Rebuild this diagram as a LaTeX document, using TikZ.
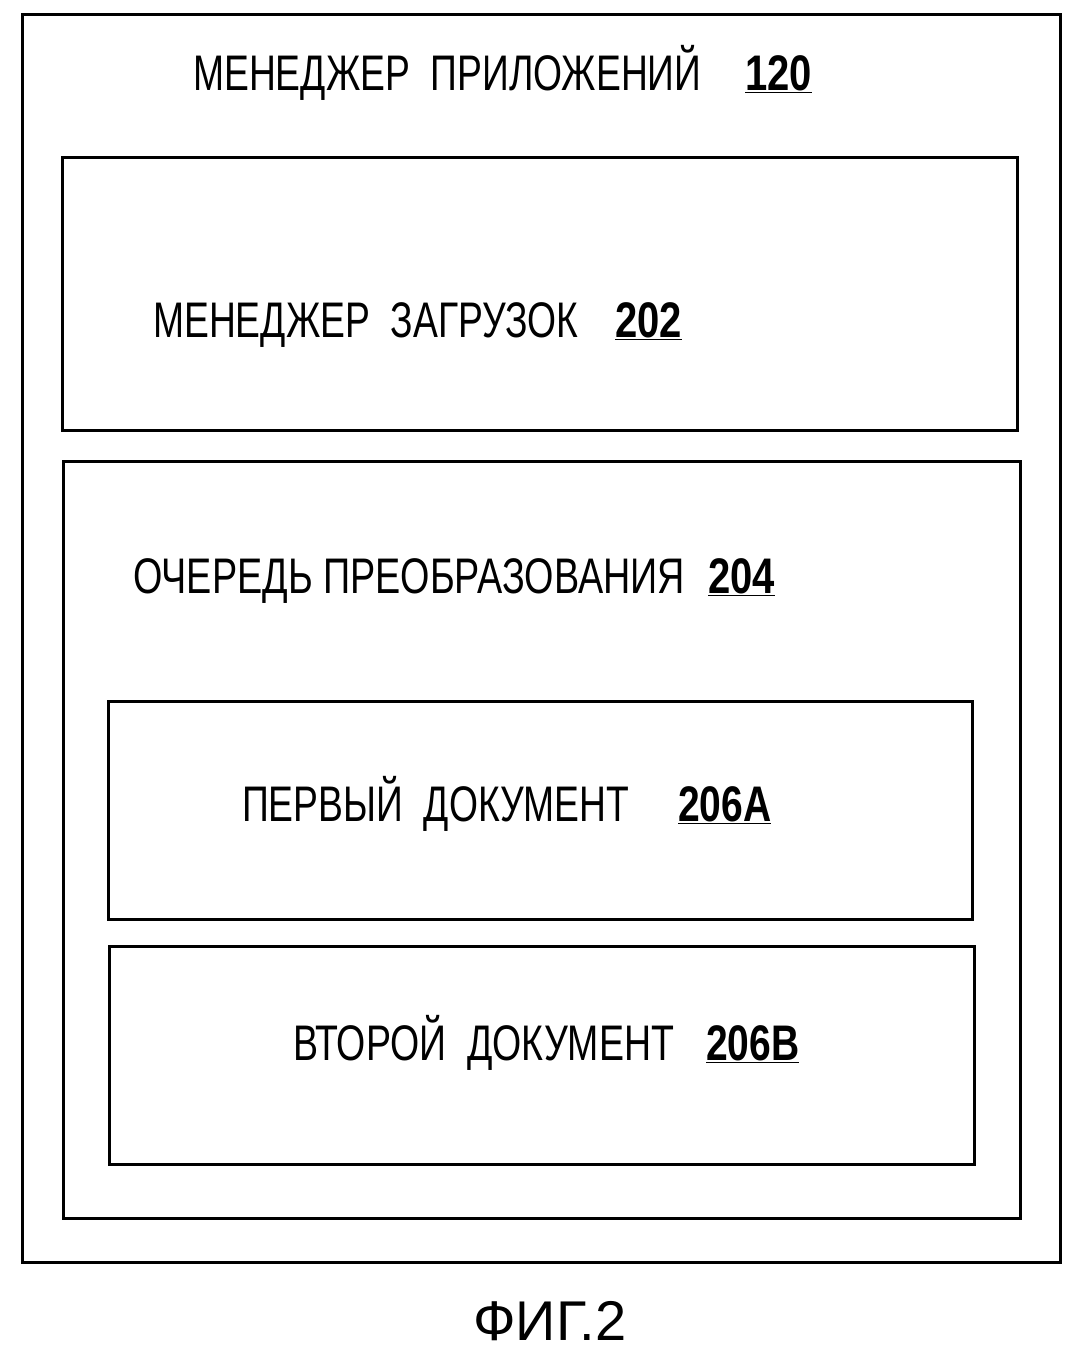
\documentclass[tikz,border=0pt]{standalone}
\usepackage{fontspec}
\setmainfont{Liberation Sans}
\begin{document}
\begin{tikzpicture}[x=1pt,y=-1pt,
  box/.style={draw,line width=3pt},
  lbl/.style={anchor=base west,inner sep=0pt,font=\fontsize{50}{60}\selectfont},
  num/.style={anchor=base west,inner sep=0pt,font=\fontsize{50}{60}\selectfont\bfseries}]
\useasboundingbox (0,0) rectangle (1088,1357);
\draw[box] (22,14) rectangle (1060,1262);
\draw[box] (62,157) rectangle (1017,430);
\draw[box] (63,461) rectangle (1020,1218);
\draw[box] (108,701) rectangle (972,919);
\draw[box] (109,946) rectangle (974,1164);
\node[lbl] (t120) at (193,90) {\scalebox{0.745}[1]{МЕНЕДЖЕР\ \ ПРИЛОЖЕНИЙ}};
\node[num] (n120) at (745,90) {\scalebox{0.8}[1]{\underline{120}}};
\node[lbl] (t202) at (153,337) {\scalebox{0.745}[1]{МЕНЕДЖЕР\ \ ЗАГРУЗОК}};
\node[num] (n202) at (615,337) {\scalebox{0.8}[1]{\underline{202}}};
\node[lbl] (t204) at (133,593) {\scalebox{0.755}[1]{ОЧЕРЕДЬ ПРЕОБРАЗОВАНИЯ}};
\node[num] (n204) at (708,593) {\scalebox{0.8}[1]{\underline{204}}};
\node[lbl] (t206a) at (242,821) {\scalebox{0.745}[1]{ПЕРВЫЙ\ \ ДОКУМЕНТ}};
\node[num] (n206a) at (678,821) {\scalebox{0.78}[1]{\underline{206A}}};
\node[lbl] (t206b) at (293,1060) {\scalebox{0.75}[1]{ВТОРОЙ\ \ ДОКУМЕНТ}};
\node[num] (n206b) at (706,1060) {\scalebox{0.78}[1]{\underline{206B}}};
\node[anchor=base west,inner sep=0pt,font=\fontsize{56}{66}\selectfont] (fig) at (473,1340) {ФИГ.2};
\end{tikzpicture}
\end{document}
